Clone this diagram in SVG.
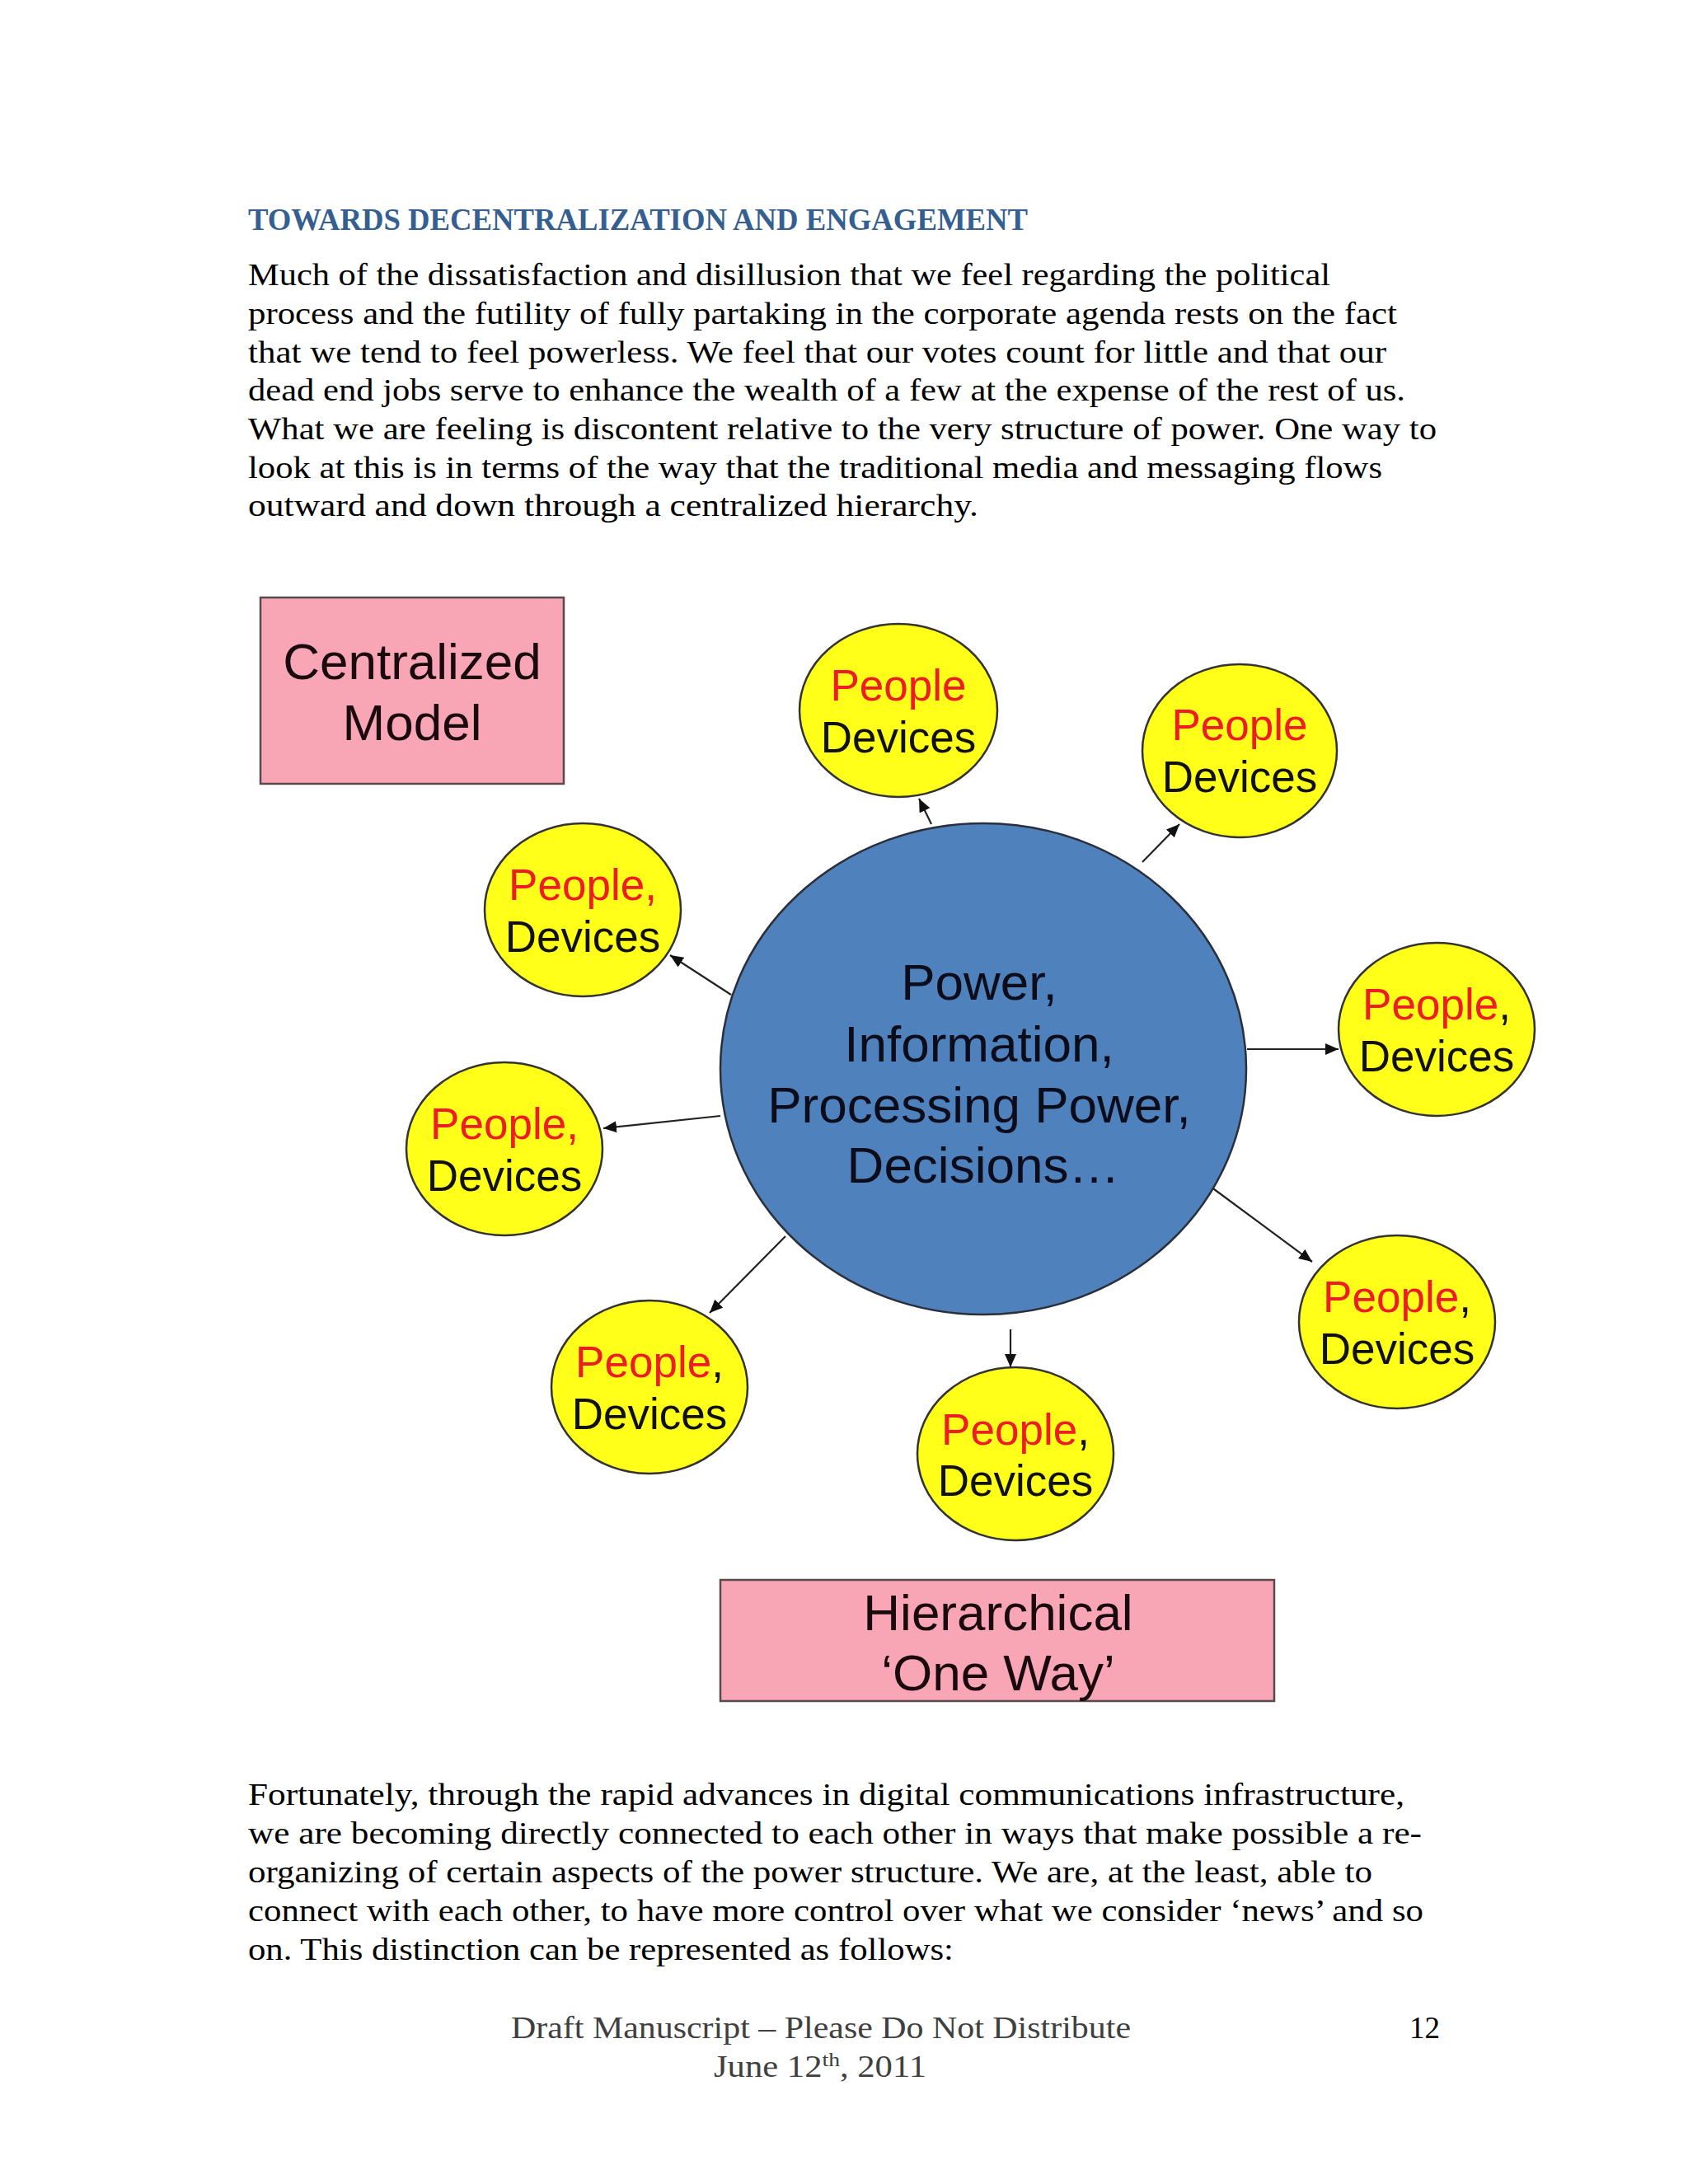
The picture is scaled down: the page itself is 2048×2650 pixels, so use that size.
<svg xmlns="http://www.w3.org/2000/svg" width="2048" height="2650" viewBox="0 0 2048 2650">
<style>
.body{font-family:"Liberation Serif",Cambria,serif;font-size:37px;fill:#000}
.head{font-family:"Liberation Serif",Cambria,serif;font-size:37px;font-weight:bold;fill:#365F91}
.foot{font-family:"Liberation Serif",Cambria,serif;font-size:37px;fill:#404040}
.box{fill:#F8A5B6;stroke:#5A4A4C;stroke-width:2.5}
.boxt{font-family:"Liberation Sans",Arial,sans-serif;font-size:62px;fill:#1a0a0e;text-anchor:middle}
.hub{fill:#4F81BD;stroke:#2a2f3a;stroke-width:2.5}
.hubt{font-family:"Liberation Sans",Arial,sans-serif;font-size:62px;fill:#0c0c1a;text-anchor:middle}
.pd{fill:#FFFF1A;stroke:#333;stroke-width:2.5}
.pdt{font-family:"Liberation Sans",Arial,sans-serif;font-size:53px;fill:#111;text-anchor:middle}
.red{fill:#EE1C24}
.conn line{stroke:#222;stroke-width:2.2;marker-end:url(#ah)}
</style>
<defs>
<marker id="ah" markerUnits="userSpaceOnUse" markerWidth="18" markerHeight="14" refX="16" refY="7" orient="auto">
<path d="M0,0 L16,7 L0,14 Z" fill="#111"/>
</marker>
</defs>
<rect width="2048" height="2650" fill="#fff"/>

<g id="text-top">
<text class="head" x="301" y="279" textLength="946" lengthAdjust="spacingAndGlyphs">TOWARDS DECENTRALIZATION AND ENGAGEMENT</text>
<text class="body" x="301" y="346" textLength="1313" lengthAdjust="spacingAndGlyphs">Much of the dissatisfaction and disillusion that we feel regarding the political</text>
<text class="body" x="301" y="393" textLength="1394" lengthAdjust="spacingAndGlyphs">process and the futility of fully partaking in the corporate agenda rests on the fact</text>
<text class="body" x="301" y="440" textLength="1381" lengthAdjust="spacingAndGlyphs">that we tend to feel powerless. We feel that our votes count for little and that our</text>
<text class="body" x="301" y="486" textLength="1404" lengthAdjust="spacingAndGlyphs">dead end jobs serve to enhance the wealth of a few at the expense of the rest of us.</text>
<text class="body" x="301" y="533" textLength="1442" lengthAdjust="spacingAndGlyphs">What we are feeling is discontent relative to the very structure of power. One way to</text>
<text class="body" x="301" y="580" textLength="1376" lengthAdjust="spacingAndGlyphs">look at this is in terms of the way that the traditional media and messaging flows</text>
<text class="body" x="301" y="626" textLength="886" lengthAdjust="spacingAndGlyphs">outward and down through a centralized hierarchy.</text>
</g>

<g id="centralized-model">
<rect class="box" x="316" y="725" width="368" height="226"/>
<text class="boxt" x="500" y="824">Centralized</text>
<text class="boxt" x="500" y="898">Model</text>
</g>

<g class="conn" id="connectors">
<line x1="1130" y1="1000" x2="1115" y2="969"/>
<line x1="1386" y1="1046" x2="1431" y2="1000"/>
<line x1="887" y1="1207" x2="813" y2="1159"/>
<line x1="1513" y1="1273" x2="1624" y2="1273"/>
<line x1="874" y1="1354" x2="732" y2="1369"/>
<line x1="1469" y1="1440" x2="1592" y2="1531"/>
<line x1="953" y1="1500" x2="861" y2="1593"/>
<line x1="1226" y1="1613" x2="1226" y2="1659"/>
</g>

<g id="hub">
<ellipse class="hub" cx="1193" cy="1297" rx="319" ry="298"/>
<text class="hubt" x="1188" y="1213">Power,</text>
<text class="hubt" x="1188" y="1288">Information,</text>
<text class="hubt" x="1188" y="1362">Processing Power,</text>
<text class="hubt" x="1193" y="1435">Decisions…</text>
</g>

<g id="pd-top">
<ellipse class="pd" cx="1090" cy="862" rx="120" ry="105"/>
<text class="pdt" x="1090" y="850"><tspan class="red">People</tspan></text>
<text class="pdt" x="1090" y="913">Devices</text>
</g>
<g id="pd-topright">
<ellipse class="pd" cx="1504" cy="911" rx="118" ry="105"/>
<text class="pdt" x="1504" y="898"><tspan class="red">People</tspan></text>
<text class="pdt" x="1504" y="961">Devices</text>
</g>
<g id="pd-upperleft">
<ellipse class="pd" cx="707" cy="1104" rx="119" ry="105"/>
<text class="pdt" x="707" y="1092"><tspan class="red">People,</tspan></text>
<text class="pdt" x="707" y="1155">Devices</text>
</g>
<g id="pd-right">
<ellipse class="pd" cx="1743" cy="1249" rx="119" ry="105"/>
<text class="pdt" x="1743" y="1237"><tspan class="red">People</tspan>,</text>
<text class="pdt" x="1743" y="1300">Devices</text>
</g>
<g id="pd-left">
<ellipse class="pd" cx="612" cy="1394" rx="119" ry="105"/>
<text class="pdt" x="612" y="1382"><tspan class="red">People,</tspan></text>
<text class="pdt" x="612" y="1445">Devices</text>
</g>
<g id="pd-lowerright">
<ellipse class="pd" cx="1695" cy="1604" rx="119" ry="105"/>
<text class="pdt" x="1695" y="1592"><tspan class="red">People</tspan>,</text>
<text class="pdt" x="1695" y="1655">Devices</text>
</g>
<g id="pd-bottomleft">
<ellipse class="pd" cx="788" cy="1683" rx="119" ry="105"/>
<text class="pdt" x="788" y="1671"><tspan class="red">People</tspan>,</text>
<text class="pdt" x="788" y="1734">Devices</text>
</g>
<g id="pd-bottom">
<ellipse class="pd" cx="1232" cy="1764" rx="119" ry="105"/>
<text class="pdt" x="1232" y="1753"><tspan class="red">People</tspan>,</text>
<text class="pdt" x="1232" y="1815">Devices</text>
</g>

<g id="hierarchical">
<rect class="box" x="874" y="1917" width="672" height="147"/>
<text class="boxt" x="1211" y="1978">Hierarchical</text>
<text class="boxt" x="1211" y="2051">‘One Way’</text>
</g>

<g id="text-bottom">
<text class="body" x="301" y="2190" textLength="1403" lengthAdjust="spacingAndGlyphs">Fortunately, through the rapid advances in digital communications infrastructure,</text>
<text class="body" x="301" y="2237" textLength="1424" lengthAdjust="spacingAndGlyphs">we are becoming directly connected to each other in ways that make possible a re-</text>
<text class="body" x="301" y="2284" textLength="1364" lengthAdjust="spacingAndGlyphs">organizing of certain aspects of the power structure. We are, at the least, able to</text>
<text class="body" x="301" y="2331" textLength="1426" lengthAdjust="spacingAndGlyphs">connect with each other, to have more control over what we consider ‘news’ and so</text>
<text class="body" x="301" y="2378" textLength="856" lengthAdjust="spacingAndGlyphs">on. This distinction can be represented as follows:</text>
</g>

<g id="footer">
<text class="foot" x="620" y="2473" textLength="752" lengthAdjust="spacingAndGlyphs">Draft Manuscript – Please Do Not Distribute</text>
<text class="body" x="1747" y="2473" text-anchor="end">12</text>
<text class="foot" x="866" y="2520" textLength="258" lengthAdjust="spacingAndGlyphs">June 12<tspan font-size="24" dy="-13">th</tspan><tspan dy="13">, 2011</tspan></text>
</g>
</svg>
